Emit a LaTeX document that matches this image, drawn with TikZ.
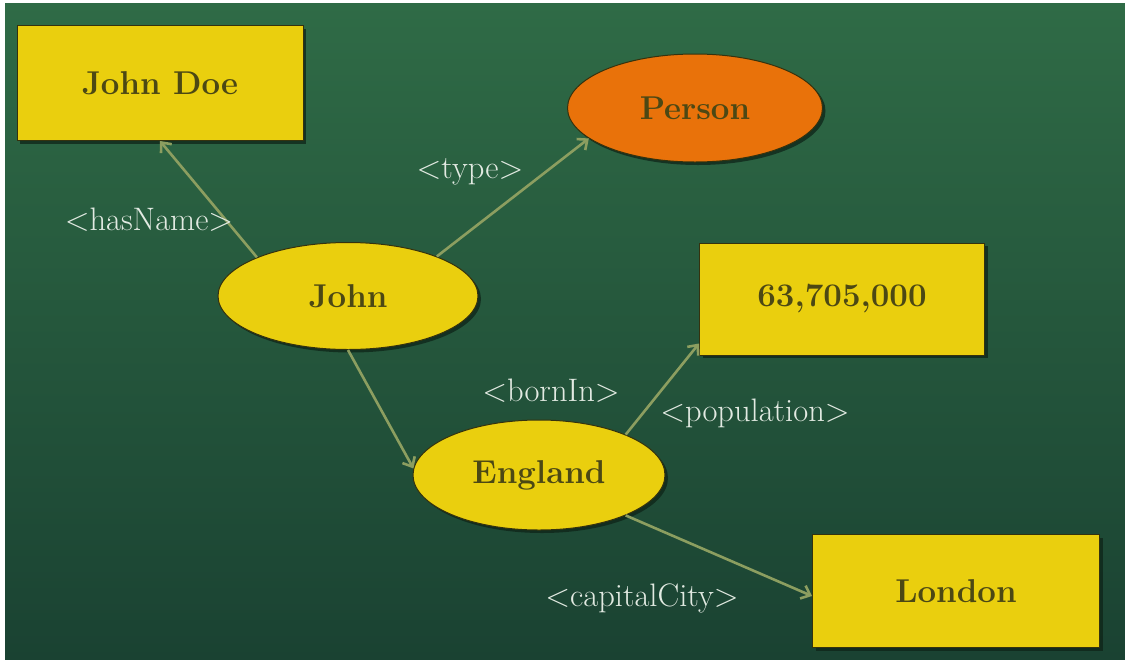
\documentclass[tikz,border=0pt]{standalone}
\usepackage{fontspec}
\usetikzlibrary{shapes.geometric,arrows.meta,shadows}
\definecolor{bgtop}{RGB}{47,107,70}
\definecolor{bgbot}{RGB}{26,66,50}
\definecolor{nodeyellow}{RGB}{234,207,14}
\definecolor{nodeorange}{RGB}{233,114,10}
\definecolor{nodetext}{RGB}{76,72,20}
\definecolor{edgecol}{RGB}{140,158,96}
\definecolor{labelcol}{RGB}{226,234,226}
\definecolor{shadowcol}{RGB}{14,36,24}
\begin{document}
\begin{tikzpicture}[x=1pt,y=-1pt,
  base/.style={draw=nodetext!70!black, line width=1pt, text=nodetext,
    font=\fontsize{33}{33}\selectfont\bfseries, inner sep=0pt,
    drop shadow={shadow xshift=3pt, shadow yshift=-3pt, fill=shadowcol, opacity=0.75}},
  rectnode/.style={base, rectangle, fill=nodeyellow},
  ellnode/.style={base, ellipse, fill=nodeyellow},
  orangenode/.style={base, ellipse, fill=nodeorange},
  rel/.style={draw=edgecol, line width=2.6pt, -{Straight Barb[length=8pt,width=14pt]}},
  lbl/.style={text=labelcol, font=\fontsize{32.5}{32.5}\selectfont, anchor=base, inner sep=0pt}
]
\useasboundingbox (0,0) rectangle (1125,662);
\fill[white] (0,0) rectangle (1125,662);
\shade[top color=bgtop, bottom color=bgbot] (5,3) rectangle (1125,659);

\node[rectnode, minimum width=286pt, minimum height=115pt] (jd) at (160,83) {John Doe};
\node[orangenode, minimum width=255pt, minimum height=108pt] (person) at (695,108) {Person};
\node[ellnode, minimum width=260pt, minimum height=107pt] (john) at (348,296) {John};
\node[rectnode, minimum width=285pt, minimum height=112pt] (pop) at (842,299) {63,705,000};
\node[ellnode, minimum width=252pt, minimum height=110pt] (england) at (539,475) {England};
\node[rectnode, minimum width=287pt, minimum height=113pt] (london) at (956,591) {London};

\draw[rel] (john.157) -- (jd.south);
\draw[rel] (john.24) -- (person.196);
\draw[rel] (john.south) -- (england.177);
\draw[rel] (england.25) -- ([yshift=12pt]pop.south west);
\draw[rel] (england.-25) -- ([yshift=-5pt]london.west);

\node[lbl] (lname) at (149,230) {<hasName>};
\node[lbl] (ltype) at (470,178) {<type>};
\node[lbl] (lborn) at (551,401) {<bornIn>};
\node[lbl] (lpop) at (755,421) {<population>};
\node[lbl] (lcap) at (642,606) {<capitalCity>};
\end{tikzpicture}
\end{document}
